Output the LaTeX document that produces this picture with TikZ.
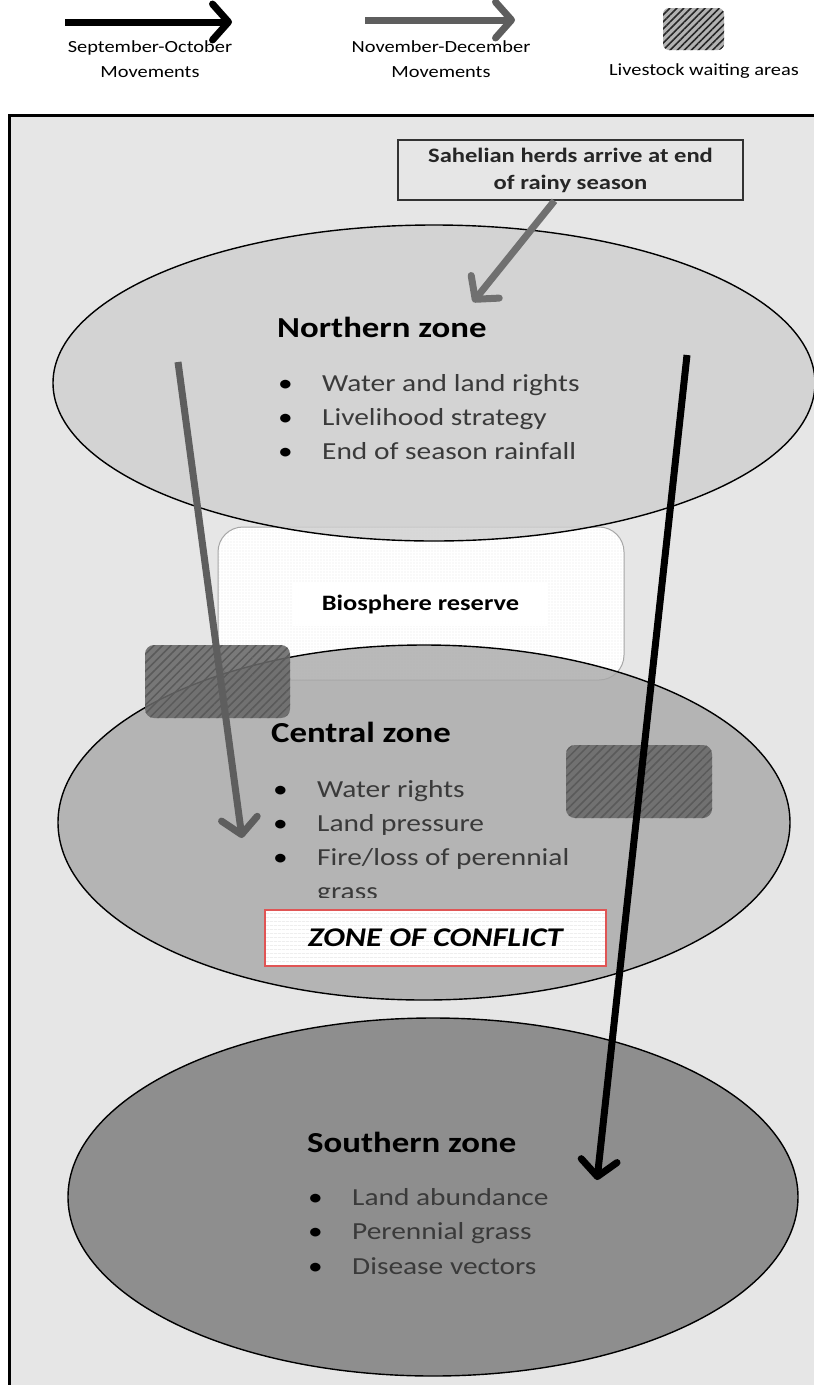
\documentclass[tikz,border=0pt]{standalone}
\usepackage{fontspec}
\setmainfont{Carlito}[FakeStretch=1.2]
\usetikzlibrary{arrows.meta, positioning, shapes.geometric, patterns.meta}

\definecolor{framebg}{HTML}{E6E6E6}
\definecolor{northfill}{HTML}{CFCFCF}
\definecolor{centralfill}{HTML}{A8A8A8}
\definecolor{southfill}{HTML}{8E8E8E}
\definecolor{novgray}{HTML}{5E5E5E}
\definecolor{sahelgray}{HTML}{707070}
\definecolor{itemtext}{HTML}{3A3A3A}
\definecolor{waitfill}{HTML}{686868}
\definecolor{hatchgray}{HTML}{5A5A5A}
\definecolor{conflictred}{HTML}{E05555}

\newcommand{\zitem}[1]{\makebox[44pt][l]{\textcolor{black}{\textbullet}}#1}

\tikzset{
  frame/.style={line width=3pt, draw=black, fill=framebg},
  zone/.style={ellipse, draw=black, line width=1.4pt, fill opacity=0.8, inner sep=0pt},
  ztitle/.style={inner sep=0pt, font=\fontsize{29}{35}\selectfont\bfseries},
  zlist/.style={inner sep=0pt, text=itemtext, font=\fontsize{24.5}{34}\selectfont},
  move/.style={line width=7pt, -{Straight Barb[length=16pt,width=36pt,round]}},
  keytext/.style={inner sep=0pt, align=center, font=\fontsize{17}{25}\selectfont},
  waitbox/.style={rounded corners=9pt, inner sep=0pt,
    preaction={fill=waitfill, fill opacity=0.88},
    pattern={Lines[angle=45,distance=6pt,line width=1.5pt]}, pattern color=hatchgray},
  reserve/.style={rounded corners=25pt, inner sep=0pt, draw=gray!70, line width=1pt,
    preaction={fill=white}, pattern={Dots[distance=3pt,radius=0.45pt]}, pattern color=gray!55},
  conflict/.style={draw=conflictred, line width=1.5pt, inner sep=0pt,
    preaction={fill=white},
    preaction={pattern={Lines[angle=0,distance=4pt,line width=0.6pt]}, pattern color=black!10},
    font=\fontsize{27}{30}\selectfont\bfseries\itshape},
  note/.style={draw=black!80, line width=1.5pt, fill=framebg, align=center, inner sep=0pt,
    text=black!85, font=\fontsize{20.5}{27}\selectfont\bfseries}
}

\begin{document}
\begin{tikzpicture}[x=1pt, y=-1pt]
  \useasboundingbox[fill=white] (0,0) rectangle (814,1385);

  % legend
  \coordinate (keysep1) at (65,22);
  \coordinate (keysep2) at (232,22);
  \draw[move] (keysep1) -- (keysep2);
  \node[keytext, anchor=north] (keyseptxt) at (150,40) {September-October\\Movements};
  \coordinate (keynov1) at (365,20);
  \coordinate (keynov2) at (515,20);
  \draw[move, draw=novgray] (keynov1) -- (keynov2);
  \node[keytext, anchor=north] (keynovtxt) at (441,40) {November-December\\Movements};
  \node[rounded corners=6pt, inner sep=0pt, minimum width=61, minimum height=42,
    preaction={fill=black!30}, pattern={Lines[angle=45,distance=5pt,line width=1.6pt]},
    pattern color=black!85] (keywait) at (693.5,29) {};
  \node[keytext, anchor=north] (keywaittxt) at (704,63) {Livestock waiting areas};

  % frame
  \draw[frame] (9.5,115.5) rectangle (830,1400);

  % zones
  \node[reserve, minimum width=406, minimum height=153] (reserve) at (421,603.5) {};
  \node[zone, fill=northfill, minimum width=762, minimum height=316] (north) at (434,383) {};
  \node[zone, fill=centralfill, minimum width=732, minimum height=355] (central) at (424,822.5) {};
  \node[zone, fill=southfill, fill opacity=1, minimum width=730, minimum height=358] (south) at (433,1197) {};
  \node[waitbox, minimum width=145, minimum height=73] (waitwest) at (217.5,681.5) {};
  \node[waitbox, minimum width=146, minimum height=73] (waiteast) at (639,781.5) {};
  \node[fill=white, inner sep=0pt, minimum width=255, minimum height=43,
    font=\fontsize{22}{26}\selectfont\bfseries] (reservetxt) at (420.5,604.5) {Biosphere reserve};

  % northern zone
  \node[ztitle, anchor=base west] (northtitle) at (277,337) {Northern zone};
  \foreach \t [count=\i from 0] in {Water and land rights, Livelihood strategy, End of season rainfall}
    \node[zlist, anchor=base west] (northitem\i) at (278,391.5+34*\i) {\zitem{\t}};

  % central zone
  \node[ztitle, anchor=base west] (centraltitle) at (271,742) {Central zone};
  \foreach \t [count=\i from 0] in {Water rights, Land pressure, Fire/loss of perennial}
    \node[zlist, anchor=base west] (centralitem\i) at (273,797.5+34*\i) {\zitem{\t}};
  \begin{scope}
    \clip (0,0) rectangle (814,897);
    \node[zlist, anchor=base west] (centralitem3) at (317,899.5) {grass};
  \end{scope}
  \node[conflict, minimum width=341, minimum height=56] (conflict) at (435.5,938) {ZONE OF CONFLICT};

  % southern zone
  \node[ztitle, anchor=base west] (southtitle) at (307,1152) {Southern zone};
  \foreach \t [count=\i from 0] in {Land abundance, Perennial grass, Disease vectors}
    \node[zlist, anchor=base west] (southitem\i) at (308,1205+34.5*\i) {\zitem{\t}};

  % herds arriving
  \node[note, minimum width=345, minimum height=60] (sahel) at (570.5,170) {Sahelian herds arrive at end\\of rainy season};
  \coordinate (sahelend) at (473,302);
  \draw[move, draw=sahelgray] ([xshift=-16pt]sahel.south) -- (sahelend);

  % movements
  \coordinate (novstart) at (178,362);
  \coordinate (novend) at (242,838);
  \draw[move, draw=novgray] (novstart) -- (novend);
  \coordinate (sepstart) at (687,355);
  \coordinate (sepend) at (597,1180);
  \draw[move] (sepstart) -- (sepend);
\end{tikzpicture}
\end{document}
